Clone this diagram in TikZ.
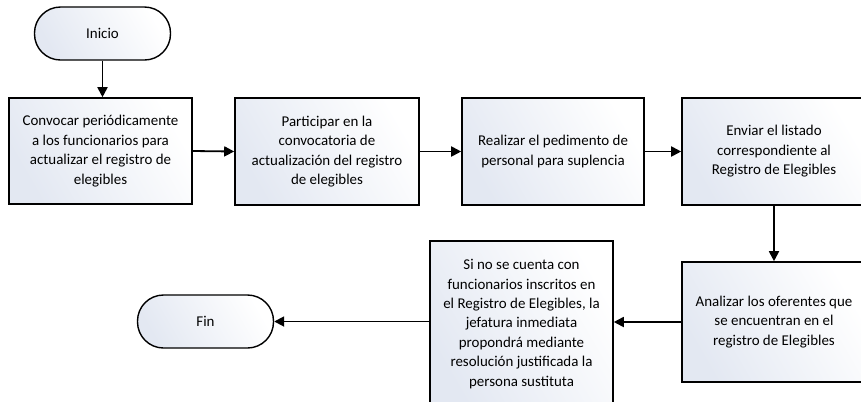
\documentclass[tikz,border=0pt]{standalone}
\usepackage{fontspec}
\setmainfont{Carlito}
\usetikzlibrary{arrows.meta}
\definecolor{shadec}{HTML}{E3E8F2}
\tikzset{
  proc/.style={draw=black, line width=1.6bp, left color=shadec, right color=white, shading angle=120,
    minimum width=#1, align=center, inner sep=2bp, font=\fontsize{15}{19.5}\selectfont},
  term/.style={draw=black, line width=1.4bp, left color=shadec, right color=white, shading angle=120,
    rounded corners=26bp, minimum width=136bp, minimum height=53bp, font=\fontsize{15}{19.5}\selectfont},
  arr/.style={line width=1.8bp, -{Triangle[length=10bp,width=10bp]}}
}
\begin{document}
\begin{tikzpicture}[x=1bp,y=-1bp]
\useasboundingbox (0,0) rectangle (861,401);
\clip (0,0) rectangle (861,401);
\node[term] (inicio) at (102.5,33.5) {Inicio};
\node[proc=183bp, minimum height=106bp] (b1) at (100.5,151) {Convocar periódicamente\\a los funcionarios para\\actualizar el registro de\\elegibles};
\node[proc=184bp, minimum height=107bp] (b2) at (327,151.5) {Participar en la\\convocatoria de\\actualización del registro\\de elegibles};
\node[proc=182bp, minimum height=107bp] (b3) at (553,151.5) {Realizar el pedimento de\\personal para suplencia};
\node[proc=184bp, minimum height=107bp] (b4) at (774,151.5) {Enviar el listado\\correspondiente al\\Registro de Elegibles};
\node[proc=184bp, minimum height=120bp] (b5) at (774,322) {Analizar los oferentes que\\se encuentran en el\\registro de Elegibles};
\node[proc=183bp, minimum height=166bp] (b6) at (521.5,324) {Si no se cuenta con\\funcionarios inscritos en\\el Registro de Elegibles, la\\jefatura inmediata\\propondrá mediante\\resolución justificada la\\persona sustituta};
\node[term] (fin) at (205.5,321.5) {Fin};
\draw[arr] (inicio.south) -- (inicio.south |- b1.north);
\draw[arr] (b1.east) -- (b2.west);
\draw[arr] (b2.east) -- (b3.west);
\draw[arr] (b3.east) -- (b4.west);
\draw[arr] (b4.south) -- (b5.north);
\draw[arr] (b5.west) -- (b5.west -| b6.east);
\draw[arr] (fin.east -| b6.west) -- (fin.east);
\end{tikzpicture}
\end{document}
